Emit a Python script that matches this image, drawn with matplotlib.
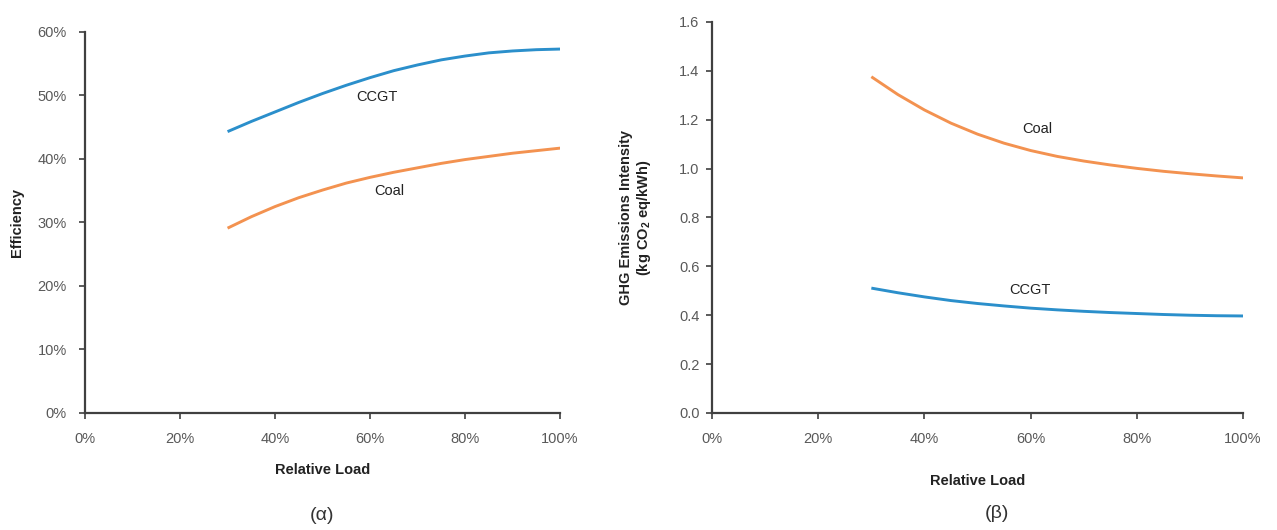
#Part-load efficiency and emissions of coal vs CCGT plants

import numpy as np
import matplotlib
matplotlib.use('Agg')
import matplotlib.pyplot as plt
from matplotlib.ticker import FuncFormatter

plt.rcParams['font.family'] = ['Liberation Sans', 'DejaVu Sans']
plt.rcParams['mathtext.default'] = 'regular'

#relative load (%)
load = [30, 35, 40, 45, 50, 55, 60, 65, 70, 75, 80, 85, 90, 95, 100]

#efficiency (%)
eff_ccgt = [44.3, 45.9, 47.4, 48.9, 50.3, 51.6, 52.8, 53.9, 54.8, 55.6, 56.2, 56.7, 57.0, 57.2, 57.3]
eff_coal = [29.1, 30.9, 32.5, 33.9, 35.1, 36.2, 37.1, 37.9, 38.6, 39.3, 39.9, 40.4, 40.9, 41.3, 41.7]

#GHG emissions intensity (kg CO2 eq/kWh)
ghg_coal = [1.376, 1.303, 1.240, 1.186, 1.141, 1.104, 1.074, 1.050, 1.031, 1.015, 1.001, 0.989, 0.979, 0.970, 0.962]
ghg_ccgt = [0.511, 0.492, 0.475, 0.460, 0.448, 0.438, 0.429, 0.422, 0.416, 0.411, 0.407, 0.403, 0.400, 0.398, 0.397]

blue = '#2b8fcb'
orange = '#f39250'
axcol = '#404040'
tickcol = '#595959'

fig = plt.figure(figsize=(12.77, 5.30), dpi=100)
ax1 = fig.add_axes([0.0666, 0.2208, 0.372, 0.719])
ax2 = fig.add_axes([0.5576, 0.2208, 0.4158, 0.7377])

pct = FuncFormatter(lambda v, p: '%d%%' % round(v))

def style(ax, ypad):
    for s in ['top', 'right']:
        ax.spines[s].set_visible(False)
    for s in ['left', 'bottom']:
        ax.spines[s].set_color(axcol)
        ax.spines[s].set_linewidth(1.6)
    ax.tick_params(direction='out', length=4, width=1.2, color=axcol,
                   labelsize=10.5, labelcolor=tickcol)
    ax.tick_params(axis='x', pad=10)
    ax.tick_params(axis='y', pad=ypad)
    ax.set_xlim(0, 100)
    ax.set_xticks(range(0, 101, 20))
    ax.xaxis.set_major_formatter(pct)

line_kw = dict(lw=2.1, solid_joinstyle='round', solid_capstyle='butt')

#(a) efficiency
ax1.plot(load, eff_ccgt, color=blue, **line_kw)
ax1.plot(load, eff_coal, color=orange, **line_kw)
style(ax1, 9)
ax1.set_ylim(0, 60)
ax1.set_yticks(range(0, 61, 10))
ax1.yaxis.set_major_formatter(pct)
ax1.text(61.5, 49.8, 'CCGT', ha='center', va='center', fontsize=10.5, color='#222222')
ax1.text(64.0, 35.0, 'Coal', ha='center', va='center', fontsize=10.5, color='#222222')
ax1.set_xlabel('Relative Load', fontsize=10.5, fontweight='bold', color='#222222', labelpad=12)
ax1.set_ylabel('Efficiency', fontsize=10.5, fontweight='bold', color='#222222', labelpad=10)

#(b) emissions intensity
ax2.plot(load, ghg_coal, color=orange, **line_kw)
ax2.plot(load, ghg_ccgt, color=blue, **line_kw)
style(ax2, 5)
ax2.set_ylim(0, 1.6)
ax2.set_yticks(np.arange(0, 1.61, 0.2))
ax2.yaxis.set_major_formatter(FuncFormatter(lambda v, p: '%.1f' % v))
ax2.text(61.2, 1.162, 'Coal', ha='center', va='center', fontsize=10.5, color='#222222')
ax2.text(59.9, 0.503, 'CCGT', ha='center', va='center', fontsize=10.5, color='#222222')
ax2.set_xlabel('Relative Load', fontsize=10.5, fontweight='bold', color='#222222', labelpad=20)
ax2.set_ylabel('GHG Emissions Intensity\n(kg CO$_2$ eq/kWh)', fontsize=10.5,
               fontweight='bold', color='#222222', labelpad=19, linespacing=1.1)

fig.text(322 / 1277, 1 - 515 / 530, '(α)', ha='center', va='center', fontsize=14, color='#333333')
fig.text(997 / 1277, 1 - 513 / 530, '(β)', ha='center', va='center', fontsize=14, color='#333333')

plt.savefig('out.png', dpi=100)
